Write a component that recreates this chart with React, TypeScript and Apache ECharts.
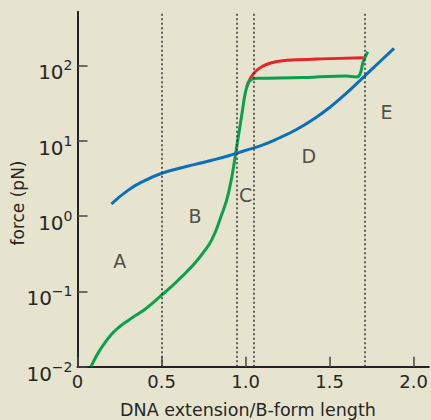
import React, { useEffect, useRef } from "react";
import * as echarts from "echarts";

const xTicks = [0, 0.5, 1.0, 1.5, 2.0];
const yTicks = [0.01, 0.1, 1, 10, 100];
const boundaries = [0.5, 0.948, 1.054, 1.705];

const regionNames = ["A", "B", "C", "D", "E"];
const regionX = [0.251, 0.699, 1.001, 1.376, 1.839];
const regionY = [0.253, 1.0, 1.9, 6.25, 24.2];

const blueX = [0.202, 0.3, 0.4, 0.5, 0.6, 0.7, 0.8, 0.9, 0.95, 1.0, 1.1, 1.2, 1.3, 1.4, 1.5, 1.6, 1.7, 1.8, 1.883];
const blueY = [1.442, 2.188, 2.951, 3.673, 4.266, 4.842, 5.495, 6.31, 6.839, 7.413, 8.71, 10.84, 13.96, 19.05, 27.54, 42.66, 69.18, 112.2, 167.9];

const greenX = [0.08, 0.1, 0.125, 0.15, 0.2, 0.25, 0.3, 0.35, 0.4, 0.45, 0.5, 0.55, 0.6, 0.65, 0.7, 0.75, 0.8, 0.85, 0.9, 0.95, 0.98, 1.0, 1.02, 1.04, 1.07, 1.2, 1.4, 1.6, 1.66, 1.68, 1.7, 1.727];
const greenY = [0.01, 0.0123, 0.01549, 0.01884, 0.02661, 0.03388, 0.04074, 0.04842, 0.05754, 0.07079, 0.08913, 0.1109, 0.1413, 0.182, 0.2399, 0.3311, 0.4898, 0.9333, 2.089, 9.12, 23.99, 44.67, 60.26, 65.31, 67.14, 67.61, 69.5, 71.94, 69.98, 75.86, 112.2, 151.4];

const redX = [1.007, 1.03, 1.06, 1.1, 1.15, 1.22, 1.3, 1.45, 1.701];
const redY = [52.0, 67.61, 83.18, 96.61, 107.2, 114.8, 118.0, 121.6, 125.9];

const FONT = "DejaVu Sans";
const TEXT = "#262626";
const BG = "#e6e4ce";

const zip = (xs: number[], ys: number[]) => xs.map((x, i) => [x, ys[i]]);

const supText = (v: number) => {
  const e = Math.round(Math.log10(v));
  return e < 0 ? "\u2212" + Math.abs(e) : String(e);
};

export default function App() {
  const ref = useRef<HTMLDivElement>(null);
  useEffect(() => {
    if (!ref.current) return;
    const chart = echarts.init(ref.current, null, { renderer: "svg" });
    chart.setOption({
      animation: false,
      backgroundColor: BG,
      grid: { left: 77.5, right: 0.5, top: 11.7, bottom: 53.3 },
      xAxis: {
        type: "value",
        min: 0,
        max: 2.09,
        splitLine: { show: false },
        axisLine: { show: true, lineStyle: { color: "#222", width: 2 } },
        axisTick: { show: true, inside: true, length: 10, customValues: xTicks, lineStyle: { color: "#444", width: 1.5 } },
        axisLabel: {
          customValues: xTicks,
          margin: 6,
          fontFamily: FONT,
          fontSize: 18,
          color: TEXT,
          formatter: (v: number) => (v === 0 ? "0" : v.toFixed(1)),
        },
      },
      yAxis: {
        type: "log",
        logBase: 10,
        min: 0.01,
        max: 514,
        splitLine: { show: false },
        minorTick: { show: false },
        axisLine: { show: true, lineStyle: { color: "#222", width: 2 } },
        axisTick: { show: true, inside: true, length: 10, customValues: yTicks, lineStyle: { color: "#444", width: 1.5 } },
        axisLabel: {
          customValues: yTicks,
          margin: 5,
          padding: [10, 0, 0, 0],
          color: TEXT,
          formatter: (v: number) => `{m|10}{e|${supText(v)}}`,
          rich: {
            m: { fontFamily: FONT, fontSize: 20, color: TEXT, lineHeight: 24, verticalAlign: "bottom" },
            e: { fontFamily: FONT, fontSize: 14, color: TEXT, lineHeight: 14, verticalAlign: "top" },
          },
        },
      },
      graphic: [
        {
          type: "text",
          x: 18,
          y: 203,
          rotation: Math.PI / 2,
          style: { text: "force (pN)", fontFamily: FONT, fontSize: 17, fill: TEXT, align: "center", verticalAlign: "middle" },
        },
        {
          type: "text",
          x: 248,
          y: 410,
          style: { text: "DNA extension/B-form length", fontFamily: FONT, fontSize: 17.5, fill: TEXT, align: "center", verticalAlign: "middle" },
        },
      ],
      series: [
        {
          type: "line",
          data: zip(redX, redY),
          smooth: true,
          showSymbol: false,
          lineStyle: { color: "#e8232b", width: 3 },
          markLine: {
            silent: true,
            symbol: ["none", "none"],
            label: { show: false },
            lineStyle: { color: "#333", width: 1.5, type: [2, 2.5] },
            data: boundaries.map((b) => ({ xAxis: b })),
          },
        },
        {
          type: "line",
          data: zip(greenX, greenY),
          smooth: true,
          showSymbol: false,
          lineStyle: { color: "#0aa04c", width: 3 },
        },
        {
          type: "line",
          data: zip(blueX, blueY),
          smooth: true,
          showSymbol: false,
          lineStyle: { color: "#0b6fbd", width: 3 },
        },
        {
          type: "scatter",
          symbolSize: 1,
          itemStyle: { color: "rgba(0,0,0,0)" },
          data: regionNames.map((n, i) => ({ name: n, value: [regionX[i], regionY[i]] })),
          label: {
            show: true,
            position: "inside",
            formatter: (p: any) => p.name,
            fontFamily: FONT,
            fontSize: 19,
            color: TEXT,
          },
        },
      ],
    });
    return () => chart.dispose();
  }, []);
  return <div ref={ref} style={{ position: "absolute", left: 0, top: 0, width: 431, height: 420 }} />;
}
